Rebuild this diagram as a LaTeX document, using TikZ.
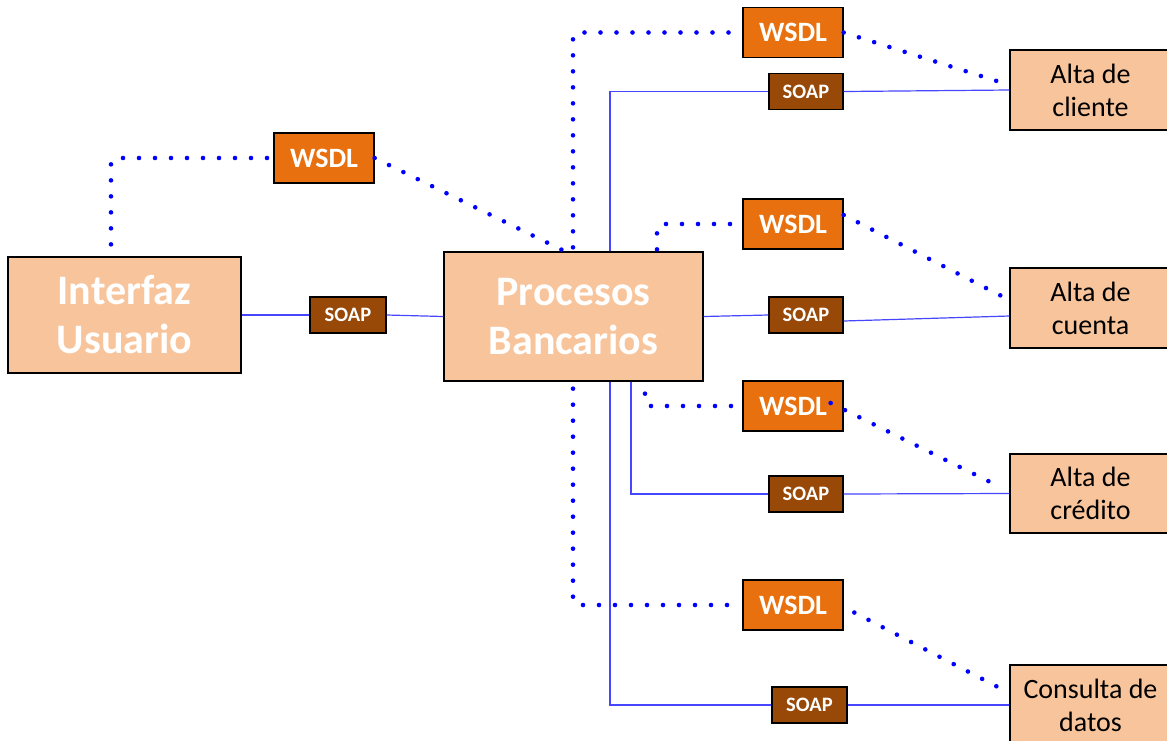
\documentclass[tikz,border=0pt]{standalone}
\usepackage{fontspec}
\setmainfont{Carlito}
\definecolor{peach}{RGB}{248,196,155}
\definecolor{wsdlorange}{RGB}{232,112,14}
\definecolor{soapbrown}{RGB}{152,72,7}
\definecolor{soapblue}{RGB}{70,70,255}
\definecolor{dotblue}{RGB}{0,0,255}
\tikzset{
  mainbox/.style={draw=black, line width=1.3pt, fill=peach, inner sep=0pt,
    align=center, text=white, font=\bfseries\fontsize{42}{49}\selectfont},
  taskbox/.style={draw=black, line width=1.3pt, fill=peach, inner sep=0pt,
    align=center, text=black, minimum width=161pt, minimum height=80pt,
    font=\fontsize{28}{33}\selectfont},
  wsdlbox/.style={draw=black, line width=1.3pt, fill=wsdlorange, inner sep=0pt,
    text=white, minimum width=100pt, minimum height=50pt,
    font=\bfseries\fontsize{28}{30}\selectfont},
  soapbox/.style={draw=black, line width=1.3pt, fill=soapbrown, inner sep=0pt,
    text=white, minimum width=74pt, minimum height=36pt,
    font=\bfseries\fontsize{20.5}{22}\selectfont},
  soapline/.style={draw=soapblue, line width=1.2pt},
  wsdlline/.style={draw=dotblue, line width=4.6pt, line cap=round,
    dash pattern=on 0pt off 16pt, rounded corners=5pt},
}
\begin{document}
\begin{tikzpicture}[x=1pt, y=-1pt]
\useasboundingbox (0,0) rectangle (1167,740);
\clip (0,0) rectangle (1167,740);
\fill[white] (0,0) rectangle (1167,740);

% main components
\node[mainbox, minimum width=233pt, minimum height=116pt] (iu) at (124.5,315) {Interfaz\\Usuario};
\node[mainbox, minimum width=259pt, minimum height=129pt] (pb) at (573.5,316.5) {Procesos\\Bancarios};

% service descriptions
\node[wsdlbox] (w1) at (324,158) {WSDL};
\node[wsdlbox] (w2) at (793,32.5) {WSDL};
\node[wsdlbox] (w3) at (793,224) {WSDL};
\node[wsdlbox] (w4) at (793,406) {WSDL};
\node[wsdlbox] (w5) at (793,605) {WSDL};

% SOAP messages
\node[soapbox, minimum width=76pt] (s1) at (348,315) {SOAP};
\node[soapbox] (s2) at (806,91.5) {SOAP};
\node[soapbox] (s3) at (806,315) {SOAP};
\node[soapbox] (s4) at (806,494) {SOAP};
\node[soapbox, minimum width=75pt] (s5) at (809.5,705) {SOAP};

% banking services
\node[taskbox] (ac)  at (1090.5,90)    {Alta de\\cliente};
\node[taskbox] (acu) at (1090.5,308)   {Alta de\\cuenta};
\node[taskbox, minimum height=79pt] (acr) at (1090.5,493.5) {Alta de\\crédito};
\node[taskbox] (cd)  at (1090.5,705)   {Consulta de\\datos};

% SOAP connections
\draw[soapline] (iu.east) -- (s1.west);
\draw[soapline] (s1.east) -- (pb.west);
\draw[soapline] (610,0 |- pb.north) |- (s2.west);
\draw[soapline] (s2.east) -- (ac.west);
\draw[soapline] (pb.east) -- (s3.west);
\draw[soapline] ([yshift=-6pt]s3.east) -- ([yshift=-8pt]acu.west);
\draw[soapline] (631,0 |- pb.south) |- (s4.west);
\draw[soapline] (s4.east) -- (acr.west);
\draw[soapline] (610,0 |- pb.south) |- (s5.west);
\draw[soapline] (s5.east) -- (cd.west);

% WSDL connections
\draw[wsdlline, shorten <=12pt] (111,0 |- iu.north) -- (111,0 |- w1.west) -- (w1.west);
\draw[wsdlline, shorten >=4pt] (w1.east) -- (565,0 |- pb.north);
\draw[wsdlline, shorten <=4pt] (573,0 |- pb.north) -- (573,0 |- w2.west) -- (w2.west);
\draw[wsdlline, shorten >=12pt] (w2.east) -- ([yshift=5pt]ac.west);
\draw[wsdlline, shorten <=2pt] (657,0 |- pb.north) -- (657,0 |- w3.west) -- (w3.west);
\draw[wsdlline, shorten >=10pt] ([yshift=9pt]w3.east) -- ([yshift=8pt]acu.west);
\draw[wsdlline, shorten <=12pt] (645,0 |- pb.south) -- (645,0 |- w4.west) -- (w4.west);
\draw[wsdlline, shorten >=22pt] ([xshift=-13pt,yshift=3pt]w4.east) -- ([yshift=2pt]acr.west);
\draw[wsdlline, shorten <=7pt] (573,0 |- pb.south) -- (573,0 |- w5.west) -- (w5.west);
\draw[wsdlline, shorten <=12pt, shorten >=8pt] ([yshift=-2pt]w5.east) -- ([yshift=12pt]cd.west);
\end{tikzpicture}
\end{document}
